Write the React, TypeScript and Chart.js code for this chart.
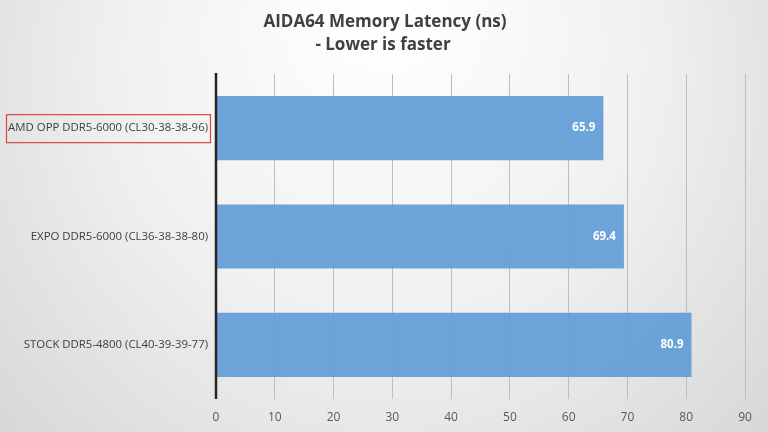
import { useEffect, useRef } from 'react';
import { Chart, registerables } from 'chart.js';

Chart.register(...registerables);

const categories = [
  'AMD OPP DDR5-6000 (CL30-38-38-96)',
  'EXPO DDR5-6000 (CL36-38-38-80)',
  'STOCK DDR5-4800 (CL40-39-39-77)',
];
const latency = [65.9, 69.4, 80.9];
const titleLines = ['AIDA64 Memory Latency (ns)', '- Lower is faster'];
const font = '"Open Sans", "Noto Sans", sans-serif';

const backgroundPlugin = {
  id: 'bg',
  beforeDraw(chart: Chart) {
    const { ctx, width, height } = chart;
    const g = ctx.createRadialGradient(width / 2, 0, 20, width / 2, height * 0.3, width * 0.75);
    g.addColorStop(0, '#ffffff');
    g.addColorStop(0.45, '#f0f0f0');
    g.addColorStop(1, '#cfcfcf');
    ctx.save();
    ctx.fillStyle = g;
    ctx.fillRect(0, 0, width, height);
    ctx.restore();
  },
};

const overlayPlugin = {
  id: 'overlay',
  afterDatasetsDraw(chart: Chart) {
    const { ctx } = chart;
    const meta = chart.getDatasetMeta(0);
    ctx.save();
    ctx.font = `bold 11.5px ${font}`;
    ctx.fillStyle = '#ffffff';
    ctx.textAlign = 'right';
    ctx.textBaseline = 'middle';
    meta.data.forEach((bar: any, i) => {
      ctx.fillText(latency[i].toFixed(1), bar.x - 8, bar.y);
    });
    // thick zero axis line
    const x0 = chart.scales.x.getPixelForValue(0);
    ctx.strokeStyle = '#262626';
    ctx.lineWidth = 2.5;
    ctx.beginPath();
    ctx.moveTo(x0, chart.chartArea.top - 1);
    ctx.lineTo(x0, chart.chartArea.bottom);
    ctx.stroke();
    ctx.restore();
  },
  afterDraw(chart: Chart) {
    const { ctx } = chart;
    ctx.save();
    ctx.font = `bold 17px ${font}`;
    ctx.fillStyle = '#404040';
    ctx.textAlign = 'center';
    ctx.textBaseline = 'middle';
    ctx.fillText(titleLines[0], 385, 22);
    ctx.fillText(titleLines[1], 383, 45);
    // red highlight box around first category label
    const y = chart.scales.y.getPixelForValue(0);
    ctx.strokeStyle = '#d9453f';
    ctx.lineWidth = 1.2;
    ctx.strokeRect(6.5, y - 13.5, 204, 28);
    ctx.restore();
  },
};

export default function App() {
  const canvasRef = useRef<HTMLCanvasElement | null>(null);
  const chartRef = useRef<Chart | null>(null);

  useEffect(() => {
    const ctx = canvasRef.current?.getContext('2d');
    if (!ctx) return;
    if (chartRef.current) chartRef.current.destroy();

    chartRef.current = new Chart(ctx, {
      type: 'bar',
      data: {
        labels: categories,
        datasets: [
          {
            data: latency,
            backgroundColor: 'rgba(98, 157, 214, 0.93)',
            categoryPercentage: 0.593,
            barPercentage: 1,
          },
        ],
      },
      options: {
        indexAxis: 'y',
        animation: false,
        responsive: false,
        layout: { padding: { top: 74, right: 23, left: 0, bottom: 0 } },
        plugins: { legend: { display: false }, tooltip: { enabled: false } },
        scales: {
          x: {
            min: 0,
            max: 90,
            ticks: { stepSize: 10, color: '#595959', font: { family: font, size: 12 }, padding: 11 },
            grid: { color: '#bdbdbd', drawTicks: false, lineWidth: 1 },
            border: { display: false },
            afterFit(scale: any) {
              scale.height = 33;
            },
          },
          y: {
            ticks: { color: '#404040', font: { family: font, size: 11.4 }, padding: 8 },
            grid: { display: false, drawTicks: false },
            border: { display: false },
            afterFit(scale: any) {
              scale.width = 216;
            },
          },
        },
      },
      plugins: [backgroundPlugin, overlayPlugin],
    });

    return () => {
      if (chartRef.current) chartRef.current.destroy();
    };
  }, []);

  return (
    <div style={{ position: 'fixed', left: 0, top: 0, width: 768, height: 432 }}>
      <canvas ref={canvasRef} width={768} height={432} style={{ width: 768, height: 432 }}></canvas>
    </div>
  );
}
